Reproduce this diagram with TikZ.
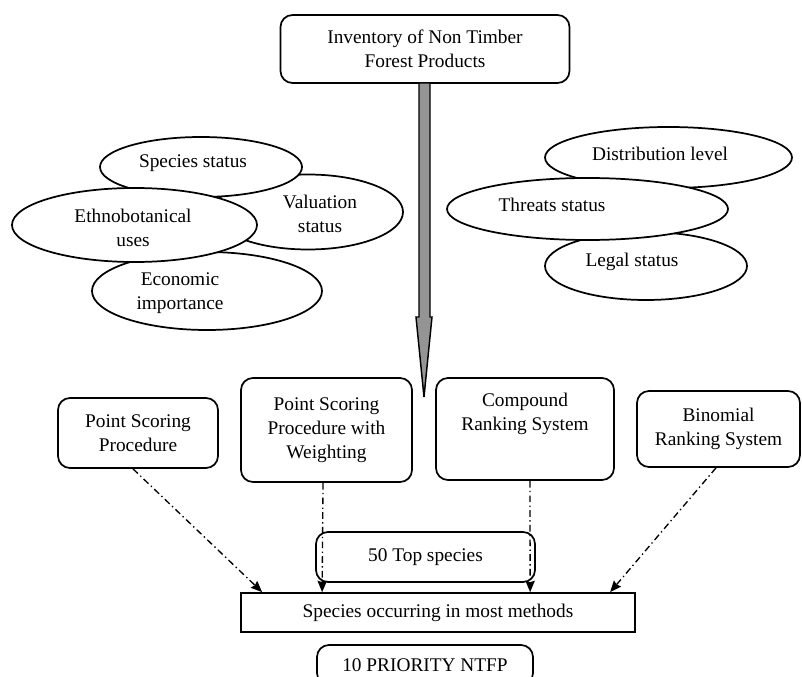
\documentclass[tikz,border=0pt]{standalone}
\usepackage{fontspec}
\setmainfont{Liberation Serif}
\usetikzlibrary{calc,arrows.meta,shapes.geometric}
\begin{document}
\begin{tikzpicture}[x=0.75pt,y=-0.75pt,
  font=\fontsize{14.5}{18}\selectfont,
  rbox/.style={draw,line width=1.3pt,rounded corners=9pt,fill=white,align=center,inner sep=0pt},
  sbox/.style={draw,line width=1.3pt,fill=white,align=center,inner sep=0pt},
  oval/.style={draw,ellipse,line width=1.3pt,fill=white,inner sep=0pt},
  txt/.style={align=center,inner sep=0pt},
  conn/.style={line width=1pt,dash pattern=on 5pt off 2.5pt on 1pt off 2.5pt,-{Stealth[length=8.5pt,width=7pt,inset=1pt]}},
  bigarrow/.style={draw,line width=1.1pt,fill=black!42,line join=miter}]
\useasboundingbox (0,0) rectangle (802,677);

% top box
\node[rbox,minimum width=216.75pt,minimum height=51pt] (top) at (425,49) {Inventory of Non Timber\\Forest Products};

% left ellipses
\node[oval,minimum width=142.5pt,minimum height=56.25pt] (val) at (308,212) {};
\node[oval,minimum width=151.5pt,minimum height=45pt] (spst) at (201,167) {};
\node[oval,minimum width=172.5pt,minimum height=58.5pt] (eco) at (207,291) {};
\node[oval,minimum width=183.75pt,minimum height=55.5pt] (eth) at (134.5,225) {};
\node[txt] (spstT) at (193,163) {Species status};
\node[txt] (valT) at (320,214) {Valuation\\status};
\node[txt] (ethT) at (133,228) {Ethnobotanical\\uses};
\node[txt] (ecoT) at (180,293) {Economic\\importance};

% right ellipses
\node[oval,minimum width=185.25pt,minimum height=45.75pt] (dist) at (668.5,157.5) {};
\node[oval,minimum width=151.5pt,minimum height=51pt] (leg) at (646,266) {};
\node[oval,minimum width=210.75pt,minimum height=46.5pt] (thr) at (587.5,209) {};
\node[txt] (distT) at (660,154) {Distribution level};
\node[txt] (thrT) at (552,205) {Threats status};
\node[txt] (legT) at (632,262) {Legal status};

% big arrow
\draw[bigarrow] (419,83) -- (419,317) -- (416,317) -- (424,397) -- (432,317) -- (430,317) -- (430,83) -- cycle;

% method boxes
\node[rbox,minimum width=120pt,minimum height=52.5pt] (psp) at (138,433) {Point Scoring\\Procedure};
\node[rbox,minimum width=128.25pt,minimum height=78pt] (pspw) at (326.5,430) {Point Scoring\\Procedure with\\Weighting};
\node[rbox,minimum width=133.5pt,minimum height=76.5pt] (cmp) at (525,429) {};
\node[txt] (cmpT) at (525,414) {Compound\\Ranking System};
\node[rbox,minimum width=122.25pt,minimum height=57pt] (bin) at (718.5,429) {Binomial\\Ranking System};

% bottom boxes
\node[rbox,minimum width=164.25pt,minimum height=37.5pt,fill=none] (top50) at (425.5,557) {50 Top species};
\node[sbox,minimum width=295.5pt,minimum height=29.25pt] (spec) at (438,612.5) {Species occurring in most methods};
\node[rbox,minimum width=162pt,minimum height=30pt] (prio) at (425,665) {10 PRIORITY NTFP};

% connectors
\draw[conn] ($(psp.south)+(-5,0)$) -- ($(spec.north west)+(22,0)$);
\draw[conn] ($(pspw.south)+(-3.5,0)$) -- ($(spec.north west)+(82,0)$);
\draw[conn] ($(cmp.south)+(5,0)$) -- ($(spec.north west)+(290,0)$);
\draw[conn] ($(bin.south)+(-2.5,0)$) -- ($(spec.north west)+(370,0)$);
\end{tikzpicture}
\end{document}
